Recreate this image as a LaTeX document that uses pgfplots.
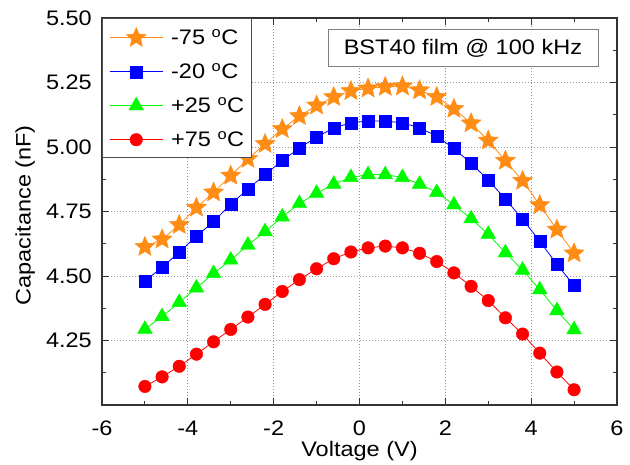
\documentclass[border=0pt]{standalone}
\usepackage{fontspec}
\setmainfont{Liberation Sans}[FakeStretch=1.12]
\usepackage{pgfplots}
\usepackage{pgfplotstable}
\pgfplotsset{compat=1.18}

\definecolor{corange}{RGB}{255,140,20}
\definecolor{cblue}{RGB}{0,0,255}
\definecolor{cgreen}{RGB}{0,250,0}
\definecolor{cred}{RGB}{255,0,0}

% filled five-pointed star
\pgfdeclareplotmark{fstar}{%
  \pgfpathmoveto{\pgfqpointpolar{90}{\pgfplotmarksize}}%
  \pgfpathlineto{\pgfqpointpolar{126}{0.45\pgfplotmarksize}}%
  \pgfpathlineto{\pgfqpointpolar{162}{\pgfplotmarksize}}%
  \pgfpathlineto{\pgfqpointpolar{198}{0.45\pgfplotmarksize}}%
  \pgfpathlineto{\pgfqpointpolar{234}{\pgfplotmarksize}}%
  \pgfpathlineto{\pgfqpointpolar{270}{0.45\pgfplotmarksize}}%
  \pgfpathlineto{\pgfqpointpolar{306}{\pgfplotmarksize}}%
  \pgfpathlineto{\pgfqpointpolar{342}{0.45\pgfplotmarksize}}%
  \pgfpathlineto{\pgfqpointpolar{18}{\pgfplotmarksize}}%
  \pgfpathlineto{\pgfqpointpolar{54}{0.45\pgfplotmarksize}}%
  \pgfpathclose
  \pgfusepathqfillstroke}

% x: voltage (V); a: -75C, b: -20C, c: +25C, d: +75C (nF)
\pgfplotstableread{
x     a      b      c      d
-5.0  4.613  4.480  4.294  4.072
-4.6  4.642  4.534  4.343  4.109
-4.2  4.698  4.592  4.398  4.150
-3.8  4.765  4.654  4.454  4.197
-3.4  4.824  4.711  4.510  4.245
-3.0  4.889  4.778  4.562  4.293
-2.6  4.954  4.837  4.620  4.341
-2.2  5.012  4.893  4.672  4.390
-1.8  5.070  4.947  4.729  4.440
-1.4  5.120  4.996  4.781  4.486
-1.0  5.161  5.038  4.821  4.528
-0.6  5.194  5.074  4.856  4.567
-0.2  5.217  5.094  4.882  4.593
0.2   5.227  5.101  4.893  4.609
0.6   5.233  5.100  4.893  4.616
1.0   5.235  5.094  4.882  4.609
1.4   5.220  5.074  4.856  4.588
1.8   5.194  5.042  4.824  4.556
2.2   5.148  4.994  4.776  4.512
2.6   5.092  4.937  4.722  4.460
3.0   5.025  4.872  4.662  4.405
3.4   4.947  4.798  4.590  4.338
3.8   4.869  4.720  4.523  4.275
4.2   4.775  4.635  4.447  4.201
4.6   4.680  4.545  4.366  4.128
5.0   4.588  4.463  4.292  4.059
}\captable

\begin{document}
\begin{tikzpicture}[font=\fontsize{21}{25}\selectfont]
\useasboundingbox (-102pt,-60pt) rectangle (528pt,405pt);
\begin{axis}[
width=515pt,
height=387pt,
scale only axis,
at={(0pt,0pt)},
anchor=south west,
xmin=-6, xmax=6,
ymin=4, ymax=5.5,
xtick={-6,-4,...,6},
minor x tick num=1,
ytick={4.25,4.5,4.75,5,5.25,5.5},
minor ytick={4.125,4.375,4.625,4.875,5.125,5.375},
tick align=inside,
major tick length=7pt,
minor tick length=4pt,
tick style={line width=0.9pt, black!80},
axis line style={line width=1.3pt, black!80},
grid=major,
major grid style={line width=0.7pt, dash pattern=on 1pt off 2pt, gray!80},
/pgf/number format/assume math mode=true,
xticklabel style={inner sep=0pt, anchor=north, yshift=-16pt},
yticklabel style={inner sep=0pt, anchor=east, xshift=-10pt,
  /pgf/number format/.cd, fixed, fixed zerofill, precision=2},
xlabel={Voltage (V)},
ylabel={Capacitance (nF)},
xlabel style={at={(axis description cs:0.5,-0.1336)}, anchor=base},
ylabel style={at={(axis description cs:-0.1384,0.49)}, anchor=base},
legend style={at={(0,1)}, anchor=north west, draw=black!70, fill=white,
  line width=0.7pt, inner xsep=7pt, inner ysep=9pt, row sep=17pt,
  nodes={inner sep=0pt}},
legend cell align=left,
/tikz/every odd column/.append style={column sep=8pt},
legend image code/.code={%
  \draw[mark repeat=2, mark phase=2] plot coordinates {(0pt,0pt) (26.5pt,0pt) (53pt,0pt)};},
]
\addplot[corange, line width=0.8pt, mark=fstar, mark size=10.5pt,
  mark options={solid, fill=corange, line width=0.4pt}] table[x=x, y=a]{\captable};
\addlegendentry{-75 \textsuperscript{o}C}
\addplot[cblue, line width=0.8pt, mark=square*, mark size=6pt,
  mark options={solid, fill=cblue, line width=0.4pt}] table[x=x, y=b]{\captable};
\addlegendentry{-20 \textsuperscript{o}C}
\addplot[cgreen, line width=0.8pt, mark=triangle*, mark size=8.5pt,
  mark options={solid, fill=cgreen, line width=0.4pt}] table[x=x, y=c]{\captable};
\addlegendentry{+25 \textsuperscript{o}C}
\addplot[cred, line width=0.8pt, mark=*, mark size=6.3pt,
  mark options={solid, fill=cred, line width=0.4pt}] table[x=x, y=d]{\captable};
\addlegendentry{+75 \textsuperscript{o}C}
\node[draw=gray, line width=0.8pt, fill=white, minimum width=270pt,
  minimum height=37pt, inner sep=0pt] at (axis cs:2.41,5.383) {BST40 film @ 100 kHz};
\end{axis}
\end{tikzpicture}
\end{document}
